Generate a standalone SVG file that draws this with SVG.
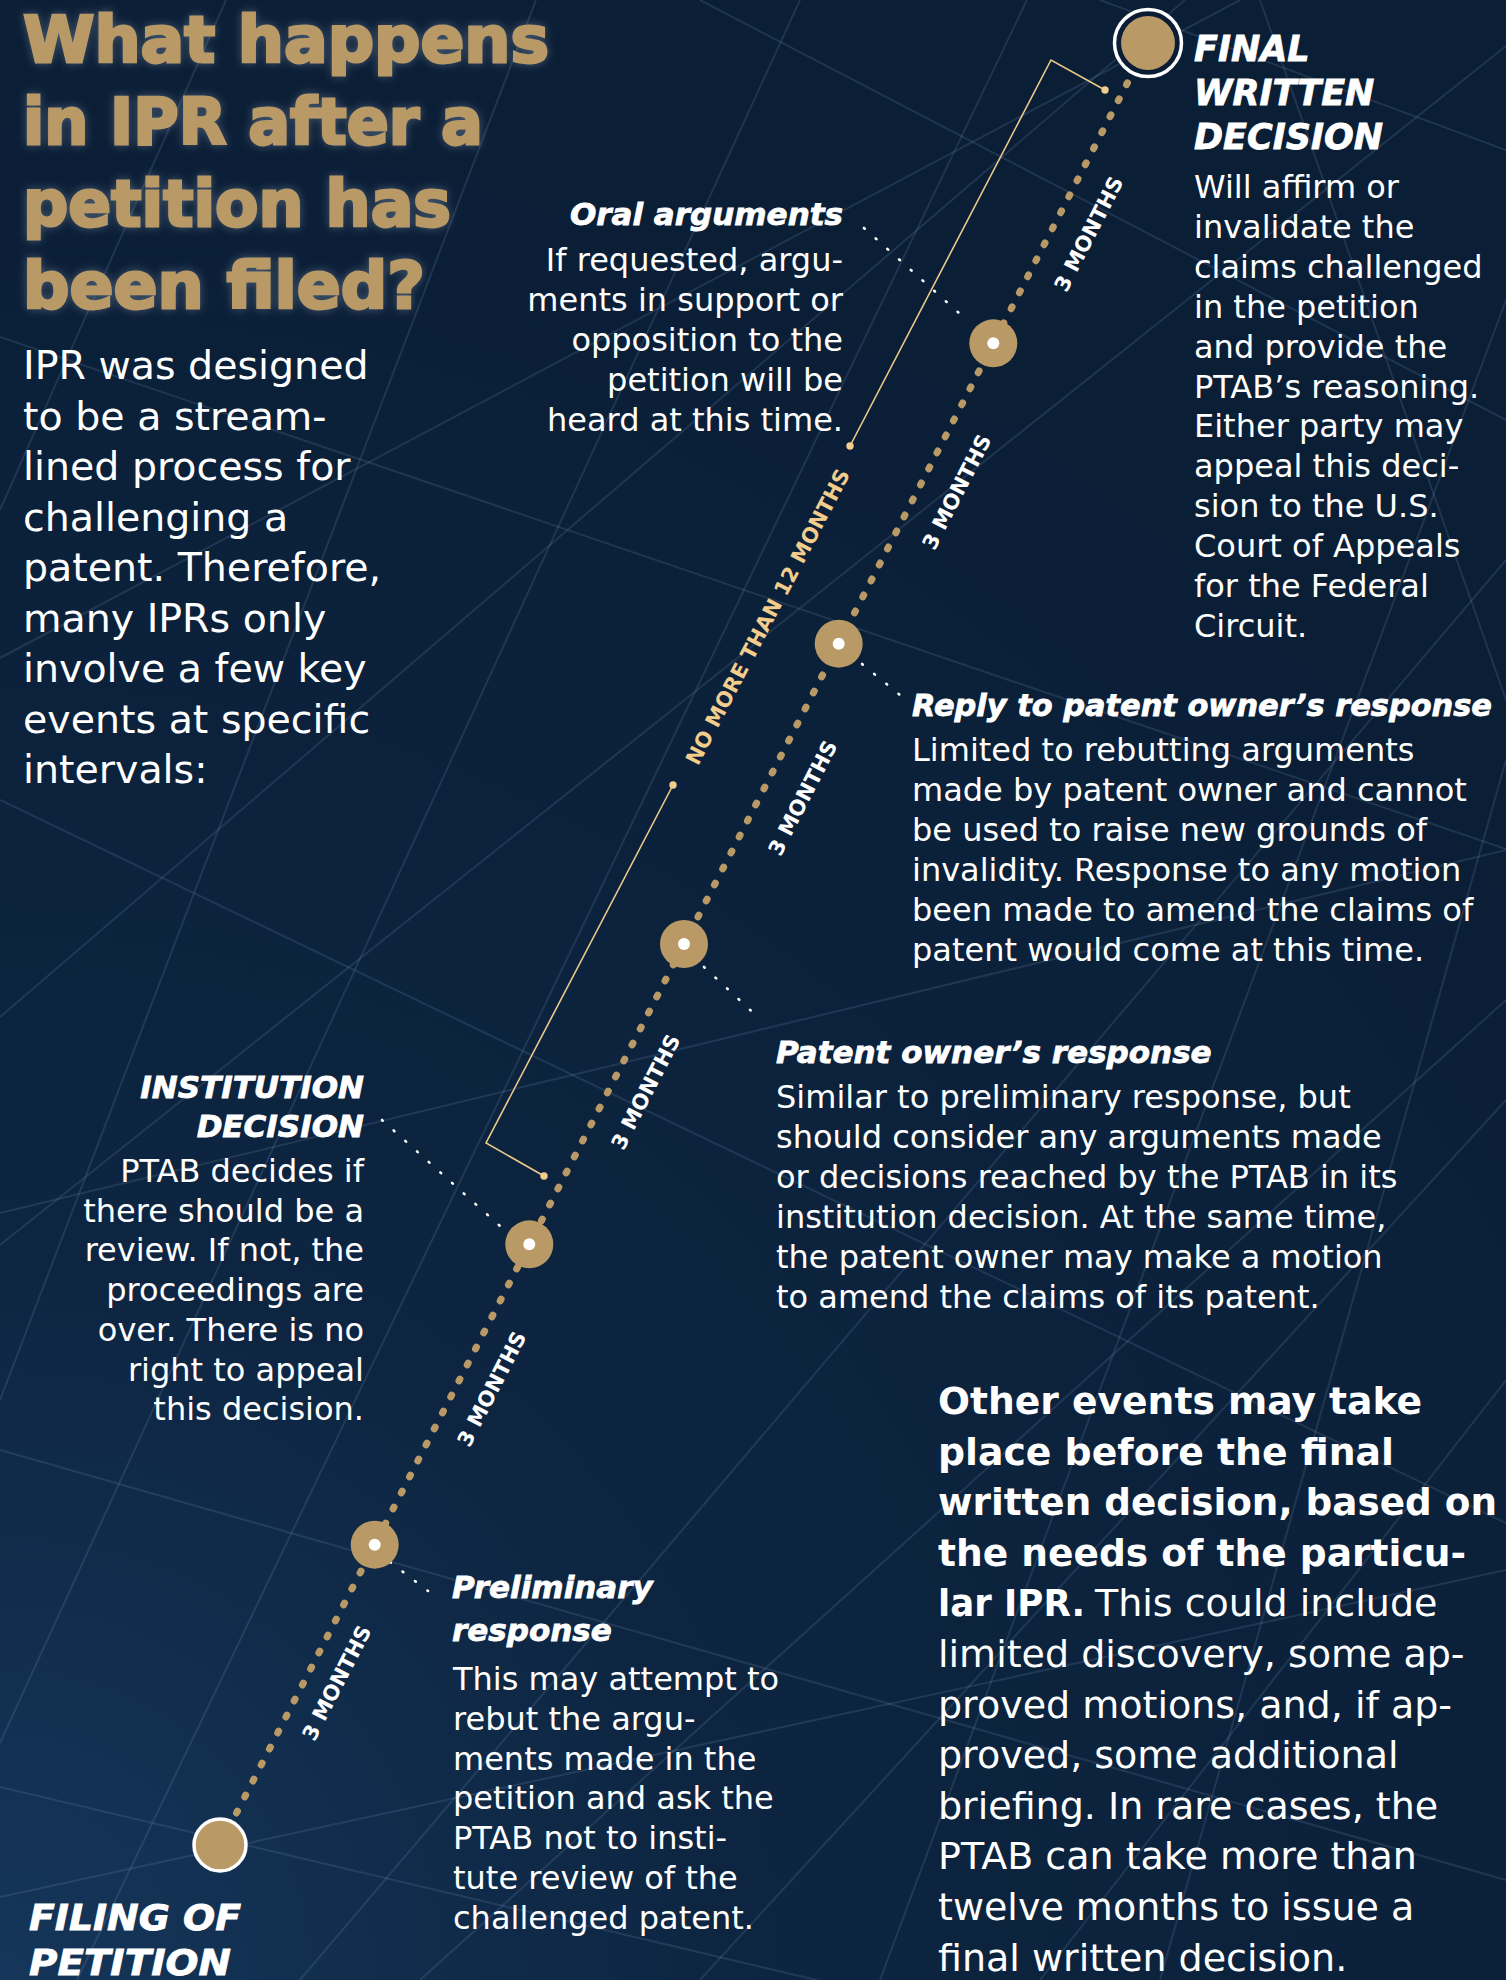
<svg xmlns="http://www.w3.org/2000/svg" width="1506" height="1980" viewBox="0 0 1506 1980">
<defs>
<radialGradient id="bgGrad" cx="0" cy="1980" r="1900" gradientUnits="userSpaceOnUse">
<stop offset="0" stop-color="#15365a"/>
<stop offset="0.38" stop-color="#0d2541"/>
<stop offset="1" stop-color="#0a1e36"/>
</radialGradient>
<filter id="glow" x="-5%" y="-10%" width="110%" height="130%">
<feGaussianBlur in="SourceAlpha" stdDeviation="5" result="b"/>
<feFlood flood-color="#d6dfea" flood-opacity="0.3"/>
<feComposite in2="b" operator="in" result="g"/>
<feMerge><feMergeNode in="g"/><feMergeNode in="SourceGraphic"/></feMerge>
</filter>
<style>
.bg line{stroke:#7d9bbb;stroke-opacity:0.18;stroke-width:2}
.title{font-family:'DejaVu Sans','Liberation Sans',sans-serif;font-weight:bold;font-size:64px;fill:#b99a66;stroke:#b99a66;stroke-width:2.8;paint-order:stroke}
.body{font-family:'DejaVu Sans','Liberation Sans',sans-serif;font-size:32px;fill:#ffffff}
.intro{font-size:39.5px}
.other{font-size:38px}
.head{font-family:'DejaVu Sans','Liberation Sans',sans-serif;font-weight:bold;font-style:italic;font-size:31px;fill:#ffffff;stroke:#ffffff;stroke-width:0.8;paint-order:stroke}
.cap{font-size:35px}
.bold{font-family:'DejaVu Sans','Liberation Sans',sans-serif;font-weight:bold;font-size:37.5px;fill:#ffffff}
.month{font-family:'DejaVu Sans','Liberation Sans',sans-serif;font-weight:bold;font-size:21px;fill:#ffffff}
.twelve{fill:#f3cd8b}
.gold{fill:#b99a66}
.pip{fill:#ffffff}
.timeline{stroke:#b99a66;stroke-width:7;stroke-linecap:round;stroke-dasharray:2 16;fill:none}
.leader{stroke:#ffffff;stroke-width:2.6;stroke-linecap:round;stroke-dasharray:1 14.7;fill:none}
.bracket{stroke:#ecc98a;stroke-width:1.6;fill:none}
.bdot{fill:#f3cd8b}
</style>
</defs>

<rect x="0" y="0" width="1506" height="1980" fill="url(#bgGrad)"/>

<g class="bg">
<line x1="0" y1="337" x2="1506" y2="849"/>
<line x1="226" y1="0" x2="0" y2="510"/>
<line x1="536" y1="0" x2="0" y2="1400"/>
<line x1="0" y1="658" x2="1240" y2="0"/>
<line x1="0" y1="800" x2="1506" y2="1523"/>
<line x1="0" y1="1017" x2="1185" y2="0"/>
<line x1="800" y1="0" x2="0" y2="1743"/>
<line x1="1506" y1="46" x2="0" y2="1245"/>
<line x1="0" y1="1213" x2="1506" y2="850"/>
<line x1="0" y1="1787" x2="1506" y2="2143"/>
<line x1="1027" y1="0" x2="77" y2="1980"/>
<line x1="0" y1="1897" x2="1506" y2="1570"/>
<line x1="700" y1="0" x2="1506" y2="420"/>
<line x1="1506" y1="300" x2="880" y2="1980"/>
<line x1="1260" y1="0" x2="1506" y2="700"/>
<line x1="1506" y1="1100" x2="700" y2="1980"/>
<line x1="1506" y1="1380" x2="1040" y2="1980"/>
<line x1="420" y1="1980" x2="1506" y2="1000"/>
<line x1="1506" y1="560" x2="300" y2="1980"/>
<line x1="1100" y1="0" x2="1506" y2="150"/>
<line x1="0" y1="1450" x2="1506" y2="1880"/>
<line x1="1506" y1="760" x2="1160" y2="1980"/>
</g>

<g id="title">
<g filter="url(#glow)">
<text class="title" x="23" y="62" textLength="526" lengthAdjust="spacingAndGlyphs">What happens</text>
<text class="title" x="23" y="144" textLength="460" lengthAdjust="spacingAndGlyphs">in IPR after a</text>
<text class="title" x="23" y="226" textLength="428" lengthAdjust="spacingAndGlyphs">petition has</text>
<text class="title" x="23" y="308" textLength="402" lengthAdjust="spacingAndGlyphs">been filed?</text>
</g>
</g>

<g id="intro">
<text class="body intro" x="23" y="379">IPR was designed</text>
<text class="body intro" x="23" y="429.5">to be a stream-</text>
<text class="body intro" x="23" y="480">lined process for</text>
<text class="body intro" x="23" y="530.5">challenging a</text>
<text class="body intro" x="23" y="581">patent. Therefore,</text>
<text class="body intro" x="23" y="631.5">many IPRs only</text>
<text class="body intro" x="23" y="682">involve a few key</text>
<text class="body intro" x="23" y="732.5">events at specific</text>
<text class="body intro" x="23" y="783">intervals:</text>
</g>

<g id="connectors">
<path class="timeline" d="M220,1845 L1148,43"/>
<path class="leader" d="M864,228 L969,322"/>
<path class="leader" d="M862,664 L900,695"/>
<path class="leader" d="M704,967 L761,1020"/>
<path class="leader" d="M382,1120 L500,1226"/>
<path class="leader" d="M390,1562 L428,1591"/>
<g id="bracket-12-months">
<path class="bracket" d="M1105,90 L1051,60 L850,446"/>
<path class="bracket" d="M673,785 L486,1143 L544,1176"/>
<circle class="bdot" cx="1105" cy="90" r="3.7"/>
<circle class="bdot" cx="850" cy="446" r="3.7"/>
<circle class="bdot" cx="673" cy="785" r="3.7"/>
<circle class="bdot" cx="544" cy="1176" r="3.7"/>
<text class="month twelve" x="0" y="0" text-anchor="middle" dominant-baseline="central" textLength="330" lengthAdjust="spacingAndGlyphs" transform="translate(768,617) rotate(-62.45)">NO MORE THAN 12 MONTHS</text>
</g>
<text class="month" text-anchor="middle" dominant-baseline="central" textLength="126" lengthAdjust="spacingAndGlyphs" transform="translate(337,1683) rotate(-62.76)">3 MONTHS</text>
<text class="month" text-anchor="middle" dominant-baseline="central" textLength="126" lengthAdjust="spacingAndGlyphs" transform="translate(492,1389) rotate(-62.76)">3 MONTHS</text>
<text class="month" text-anchor="middle" dominant-baseline="central" textLength="126" lengthAdjust="spacingAndGlyphs" transform="translate(646,1092) rotate(-62.76)">3 MONTHS</text>
<text class="month" text-anchor="middle" dominant-baseline="central" textLength="126" lengthAdjust="spacingAndGlyphs" transform="translate(803,798) rotate(-62.76)">3 MONTHS</text>
<text class="month" text-anchor="middle" dominant-baseline="central" textLength="126" lengthAdjust="spacingAndGlyphs" transform="translate(957,492) rotate(-62.76)">3 MONTHS</text>
<text class="month" text-anchor="middle" dominant-baseline="central" textLength="126" lengthAdjust="spacingAndGlyphs" transform="translate(1089,234) rotate(-62.76)">3 MONTHS</text>
</g>

<g id="node-filing">
<circle cx="220" cy="1845" r="26" class="gold" stroke="#ffffff" stroke-width="3.5"/>
<text class="head cap" x="29" y="1930" textLength="212" lengthAdjust="spacingAndGlyphs">FILING OF</text>
<text class="head cap" x="29" y="1975" textLength="202" lengthAdjust="spacingAndGlyphs">PETITION</text>
</g>

<g id="node-preliminary">
<circle cx="374.7" cy="1544.7" r="24" class="gold"/>
<circle cx="374.7" cy="1544.7" r="6" class="pip"/>
<text class="head" x="452" y="1598">Preliminary</text>
<text class="head" x="452" y="1641">response</text>
<text class="body" x="453" y="1690">This may attempt to</text>
<text class="body" x="453" y="1729.8">rebut the argu-</text>
<text class="body" x="453" y="1769.6">ments made in the</text>
<text class="body" x="453" y="1809.4">petition and ask the</text>
<text class="body" x="453" y="1849.2">PTAB not to insti-</text>
<text class="body" x="453" y="1889">tute review of the</text>
<text class="body" x="453" y="1928.8">challenged patent.</text>
</g>

<g id="node-institution">
<circle cx="529.3" cy="1244.3" r="24" class="gold"/>
<circle cx="529.3" cy="1244.3" r="6" class="pip"/>
<text class="head" x="364" y="1098" text-anchor="end">INSTITUTION</text>
<text class="head" x="364" y="1137" text-anchor="end">DECISION</text>
<text class="body" x="364" y="1182" text-anchor="end">PTAB decides if</text>
<text class="body" x="364" y="1221.7" text-anchor="end">there should be a</text>
<text class="body" x="364" y="1261.4" text-anchor="end">review. If not, the</text>
<text class="body" x="364" y="1301.1" text-anchor="end">proceedings are</text>
<text class="body" x="364" y="1340.8" text-anchor="end">over. There is no</text>
<text class="body" x="364" y="1380.5" text-anchor="end">right to appeal</text>
<text class="body" x="364" y="1420.2" text-anchor="end">this decision.</text>
</g>

<g id="node-owner-response">
<circle cx="684" cy="944" r="24" class="gold"/>
<circle cx="684" cy="944" r="6" class="pip"/>
<text class="head" x="776" y="1063">Patent owner’s response</text>
<text class="body" x="776" y="1108">Similar to preliminary response, but</text>
<text class="body" x="776" y="1148">should consider any arguments made</text>
<text class="body" x="776" y="1188">or decisions reached by the PTAB in its</text>
<text class="body" x="776" y="1228">institution decision. At the same time,</text>
<text class="body" x="776" y="1268">the patent owner may make a motion</text>
<text class="body" x="776" y="1308">to amend the claims of its patent.</text>
</g>

<g id="node-reply">
<circle cx="838.7" cy="643.7" r="24" class="gold"/>
<circle cx="838.7" cy="643.7" r="6" class="pip"/>
<text class="head" x="912" y="716" textLength="580" lengthAdjust="spacingAndGlyphs">Reply to patent owner’s response</text>
<text class="body" x="912" y="761">Limited to rebutting arguments</text>
<text class="body" x="912" y="801">made by patent owner and cannot</text>
<text class="body" x="912" y="841">be used to raise new grounds of</text>
<text class="body" x="912" y="881">invalidity. Response to any motion</text>
<text class="body" x="912" y="921">been made to amend the claims of</text>
<text class="body" x="912" y="961">patent would come at this time.</text>
</g>

<g id="node-oral">
<circle cx="993.3" cy="343.3" r="24" class="gold"/>
<circle cx="993.3" cy="343.3" r="6" class="pip"/>
<text class="head" x="843" y="225" text-anchor="end">Oral arguments</text>
<text class="body" x="843" y="271" text-anchor="end">If requested, argu-</text>
<text class="body" x="843" y="311" text-anchor="end">ments in support or</text>
<text class="body" x="843" y="351" text-anchor="end">opposition to the</text>
<text class="body" x="843" y="391" text-anchor="end">petition will be</text>
<text class="body" x="843" y="431" text-anchor="end">heard at this time.</text>
</g>

<g id="node-final">
<circle cx="1148" cy="43" r="36" fill="#0a1d35"/>
<circle cx="1148" cy="43" r="33.5" fill="none" stroke="#ffffff" stroke-width="3.5"/>
<circle cx="1148" cy="43" r="27" class="gold"/>
<text class="head cap" x="1194" y="61">FINAL</text>
<text class="head cap" x="1194" y="105">WRITTEN</text>
<text class="head cap" x="1194" y="149">DECISION</text>
<text class="body" x="1194" y="198">Will affirm or</text>
<text class="body" x="1194" y="237.9">invalidate the</text>
<text class="body" x="1194" y="277.8">claims challenged</text>
<text class="body" x="1194" y="317.7">in the petition</text>
<text class="body" x="1194" y="357.6">and provide the</text>
<text class="body" x="1194" y="397.5">PTAB’s reasoning.</text>
<text class="body" x="1194" y="437.4">Either party may</text>
<text class="body" x="1194" y="477.3">appeal this deci-</text>
<text class="body" x="1194" y="517.2">sion to the U.S.</text>
<text class="body" x="1194" y="557.1">Court of Appeals</text>
<text class="body" x="1194" y="597">for the Federal</text>
<text class="body" x="1194" y="636.9">Circuit.</text>
</g>

<g id="other-events">
<text class="bold" x="938" y="1414" textLength="484" lengthAdjust="spacingAndGlyphs">Other events may take</text>
<text class="bold" x="938" y="1464.6" textLength="456" lengthAdjust="spacingAndGlyphs">place before the final</text>
<text class="bold" x="938" y="1515.2" textLength="559" lengthAdjust="spacingAndGlyphs">written decision, based on</text>
<text class="bold" x="938" y="1565.8" textLength="528" lengthAdjust="spacingAndGlyphs">the needs of the particu-</text>
<text x="938" y="1616.4"><tspan class="bold" textLength="147" lengthAdjust="spacingAndGlyphs">lar IPR.</tspan><tspan class="body other" x="1095">This could include</tspan></text>
<text class="body other" x="938" y="1667">limited discovery, some ap-</text>
<text class="body other" x="938" y="1717.6">proved motions, and, if ap-</text>
<text class="body other" x="938" y="1768.2">proved, some additional</text>
<text class="body other" x="938" y="1818.8">briefing. In rare cases, the</text>
<text class="body other" x="938" y="1869.4">PTAB can take more than</text>
<text class="body other" x="938" y="1920">twelve months to issue a</text>
<text class="body other" x="938" y="1970.6">final written decision.</text>
</g>
</svg>
